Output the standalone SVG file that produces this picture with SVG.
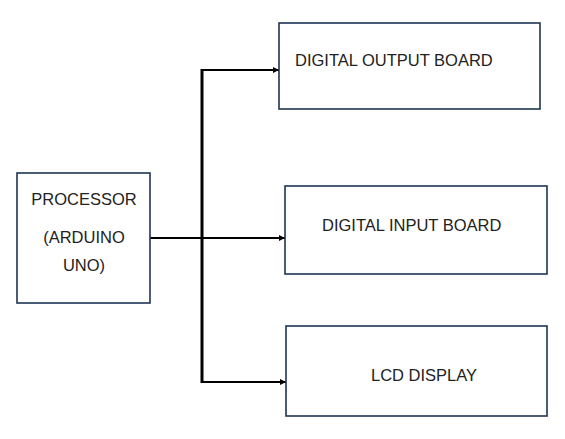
<svg xmlns="http://www.w3.org/2000/svg" width="565" height="439" viewBox="0 0 565 439">
<defs>
<style>
.box{fill:#fff;stroke:#1f3552;stroke-width:1.6}
.lbl{font-family:"Liberation Sans",Arial,sans-serif;font-size:16.5px;fill:#222}
.wire{stroke:#000;stroke-width:2;fill:none}
.bus{stroke:#000;stroke-width:3;fill:none}
</style>
<marker id="ah" viewBox="0 0 6 6" refX="6" refY="3" markerWidth="3" markerHeight="3" orient="auto" markerUnits="strokeWidth">
<path d="M0,0 L6,3 L0,6 z" fill="#000"/>
</marker>
</defs>
<rect width="565" height="439" fill="#fff"/>
<g id="connectors">
<line class="bus" x1="202" y1="69" x2="202" y2="383"/>
<line class="wire" x1="150" y1="238" x2="202" y2="238"/>
<line class="wire" x1="202" y1="70" x2="279" y2="70" marker-end="url(#ah)"/>
<line class="wire" x1="202" y1="238" x2="285" y2="238" marker-end="url(#ah)"/>
<line class="wire" x1="202" y1="382" x2="286" y2="382" marker-end="url(#ah)"/>
</g>
<g id="processor">
<rect class="box" x="17" y="173" width="133" height="130"/>
<text class="lbl" x="84" y="205" text-anchor="middle">PROCESSOR</text>
<text class="lbl" x="84" y="243" text-anchor="middle">(ARDUINO</text>
<text class="lbl" x="84" y="271" text-anchor="middle">UNO)</text>
</g>
<g id="digital-output">
<rect class="box" x="279" y="23" width="261" height="86"/>
<text class="lbl" x="295" y="66">DIGITAL OUTPUT BOARD</text>
</g>
<g id="digital-input">
<rect class="box" x="285" y="186" width="262" height="88"/>
<text class="lbl" x="322" y="231">DIGITAL INPUT BOARD</text>
</g>
<g id="lcd">
<rect class="box" x="286" y="326" width="261" height="90"/>
<text class="lbl" x="371" y="381">LCD DISPLAY</text>
</g>
</svg>
